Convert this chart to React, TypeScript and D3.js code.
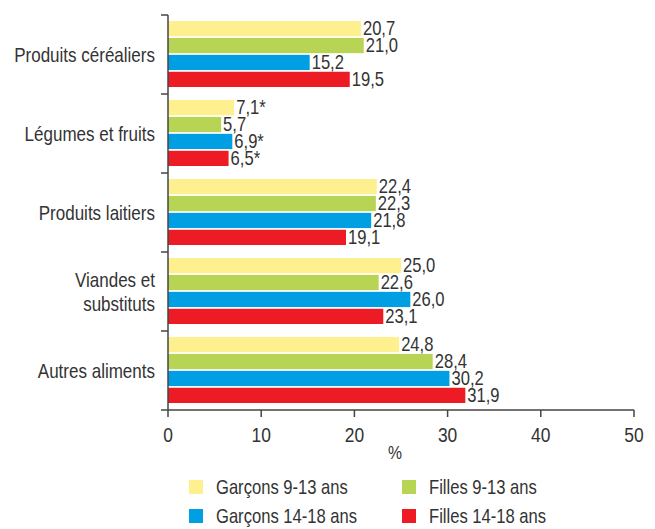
import * as React from "react";
import * as d3 from "d3";

// data
const categories = ["Produits céréaliers", "Légumes et fruits", "Produits laitiers", "Viandes et substituts", "Autres aliments"];
const categoryLines = [["Produits céréaliers"], ["Légumes et fruits"], ["Produits laitiers"], ["Viandes et", "substituts"], ["Autres aliments"]];
const seriesNames = ["Garçons 9-13 ans", "Filles 9-13 ans", "Garçons 14-18 ans", "Filles 14-18 ans"];
const seriesColors = ["#fff08f", "#b7d455", "#009fe3", "#ed1c24"];
const garcons913 = [20.7, 7.1, 22.4, 25.0, 24.8];
const filles913 = [21.0, 5.7, 22.3, 22.6, 28.4];
const garcons1418 = [15.2, 6.9, 21.8, 26.0, 30.2];
const filles1418 = [19.5, 6.5, 19.1, 23.1, 31.9];
const flagged = [[false, true, false, false, false], [false, false, false, false, false], [false, true, false, false, false], [false, true, false, false, false]];
const xTicks = [0, 10, 20, 30, 40, 50];

const FONT = "'Liberation Sans', Arial, sans-serif";
const TEXT = "#333333";
const SQUEEZE = 0.83; // reference uses a condensed face

// condensed text: squeeze horizontally around the anchor point
function T(props: { x: number; y: number; size: number; anchor?: string; children: React.ReactNode }) {
    return (
        <text
            transform={`translate(${props.x},${props.y}) scale(${SQUEEZE},1)`}
            textAnchor={props.anchor || "start"}
            fontSize={props.size}
            fill={TEXT}
        >
            {props.children}
        </text>
    );
}

export default function App() {
    const series = [garcons913, filles913, garcons1418, filles1418];

    const x = d3.scaleLinear().domain([0, 50]).range([168, 634]);
    const y = d3.scaleBand<string>().domain(categories).range([15, 410]);
    const inner = d3.scaleBand<number>()
        .domain(d3.range(series.length))
        .range([6, y.bandwidth() - 7])
        .paddingInner(0.1);

    const fmt = (v: number) => d3.format(".1f")(v).replace(".", ",");

    return (
        <svg width={655} height={529} style={{ position: "absolute", left: 0, top: 0, background: "#fff" }} fontFamily={FONT}>
            {/* bars */}
            {categories.map((c, ci) => (
                <g key={c}>
                    {series.map((s, si) => {
                        const y0 = (y(c) as number) + (inner(si) as number);
                        const h = inner.bandwidth();
                        return (
                            <g key={si}>
                                <rect x={x(0)} y={y0} width={x(s[ci]) - x(0)} height={h} fill={seriesColors[si]} />
                                <T x={x(s[ci]) + 2} y={y0 + h - 1} size={20}>
                                    {fmt(s[ci]) + (flagged[si][ci] ? "*" : "")}
                                </T>
                            </g>
                        );
                    })}
                </g>
            ))}

            {/* y axis */}
            <line x1={x(0)} x2={x(0)} y1={15} y2={410} stroke="#444" strokeWidth={1.5} />
            {categories.map(c => (
                <line key={c} x1={161} x2={x(0)} y1={y(c)} y2={y(c)} stroke="#444" strokeWidth={1.5} />
            ))}
            {categories.map((c, ci) => {
                const lines = categoryLines[ci];
                const cy = (y(c) as number) + y.bandwidth() / 2;
                return (
                    <g key={c}>
                        {lines.map((l, li) => (
                            <T key={li} x={155} y={cy + 7 + (li - (lines.length - 1) / 2) * 24} size={20.5} anchor="end">{l}</T>
                        ))}
                    </g>
                );
            })}

            {/* x axis */}
            <line x1={161} x2={x(50)} y1={410} y2={410} stroke="#444" strokeWidth={1.5} />
            {xTicks.map(t => (
                <g key={t}>
                    <line x1={x(t)} x2={x(t)} y1={410} y2={417} stroke="#444" strokeWidth={1.5} />
                    <T x={x(t)} y={442} size={21} anchor="middle">{t}</T>
                </g>
            ))}
            <T x={395} y={459} size={19} anchor="middle">%</T>

            {/* legend */}
            {seriesNames.map((n, i) => {
                const lx = i % 2 === 0 ? 189 : 402;
                const ly = i < 2 ? 480 : 509;
                return (
                    <g key={n}>
                        <rect x={lx} y={ly} width={14} height={14} fill={seriesColors[i]} />
                        <T x={lx + 27} y={ly + 14} size={20}>{n}</T>
                    </g>
                );
            })}
        </svg>
    );
}
